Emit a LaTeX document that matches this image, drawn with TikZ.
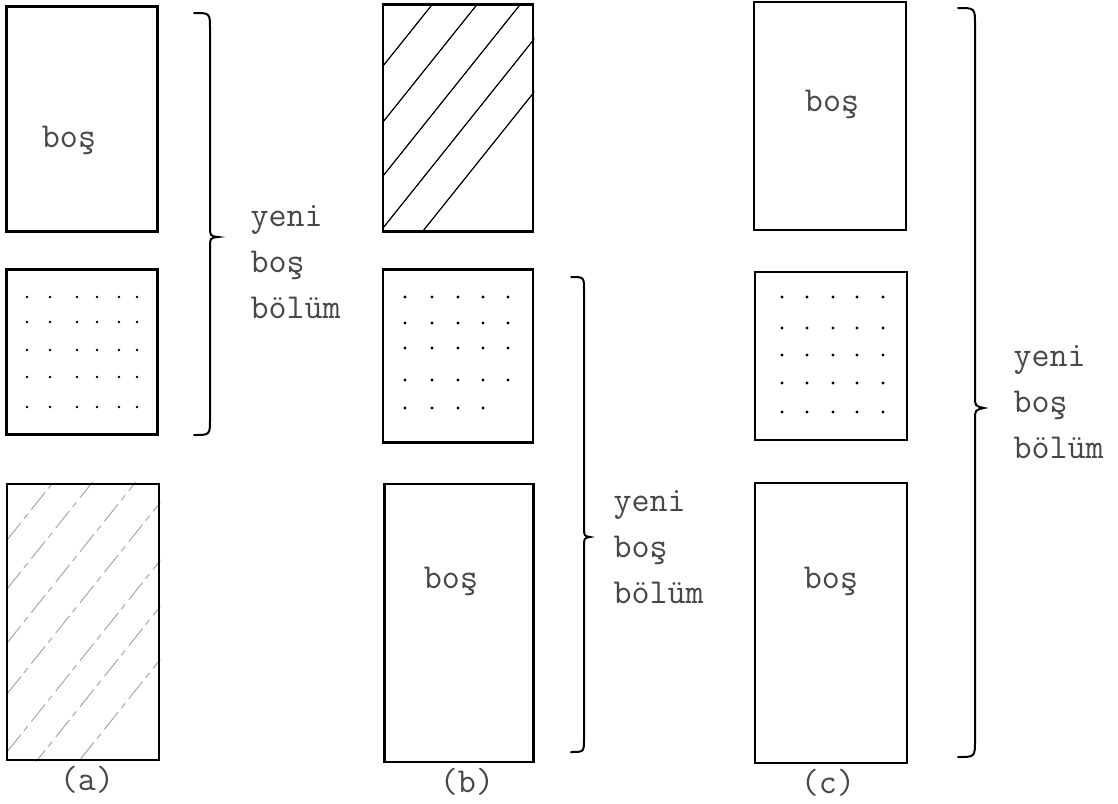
\documentclass[tikz,border=0pt]{standalone}
\usepackage{fontspec}
\usetikzlibrary{positioning,backgrounds}

\begin{document}
\begin{tikzpicture}[x=1pt,y=-1pt,
every node/.style={font=\fontsize{35}{46}\ttfamily,text=black!72},
blok/.style={draw,line width=2.6pt,inner sep=0pt},
etiket/.style={inner sep=2pt},
kume/.style={line width=2pt,line cap=round},
tarama/.style={line width=1.2pt},
soluk/.style={line width=1pt,gray!70,dash pattern=on 22pt off 5pt on 6pt off 6pt}]
\useasboundingbox (0,0) rectangle (1118,803);

% (a)
\node[blok,minimum width=151,minimum height=225] (a1) at (82,119) {};
\node[blok,minimum width=151,minimum height=165] (a2) at (82,352) {};
\node[blok,minimum width=152,minimum height=276] (a3) at (83,622) {};
\node (a1t) at (69,140) {boş};
\node[etiket,below=3pt of a3,xshift=4pt] (la) {(a)};

% (b)
\node[blok,minimum width=150,minimum height=227] (b1) at (458,118) {};
\node[blok,minimum width=150,minimum height=173] (b2) at (458,356) {};
\node[blok,minimum width=149,minimum height=278] (b3) at (459,623) {};
\node (b3t) at (451,581) {boş};
\node[etiket,below=3pt of b3,xshift=8pt] (lb) {(b)};

% (c)
\node[blok,minimum width=152,minimum height=228] (c1) at (830,116) {};
\node[blok,minimum width=152,minimum height=168] (c2) at (831,356) {};
\node[blok,minimum width=152,minimum height=280] (c3) at (831,623) {};
\node (c1t) at (832,104) {boş};
\node (c3t) at (831,581) {boş};
\node[etiket,below=3pt of c3,xshift=-3pt] (lc) {(c)};

% taralı bölümler
\begin{scope}[on background layer]
  \begin{scope}
    \clip (a3.south west) rectangle (a3.north east);
    \foreach \y in {540,589,643,694,752,798,851}
      \draw[soluk] (7,\y) -- ++(300,-375);
  \end{scope}
  \begin{scope}
    \clip (b1.south west) rectangle (b1.north east);
    \foreach \y in {66,122,176,228,281}
      \draw[tarama] (383,\y) -- ++(300,-375);
  \end{scope}
\end{scope}

% noktalı bölümler
\foreach \x in {27,50,77,97,119,137}
  \foreach \y in {297,322,350,377,407}
    \fill (\x,\y) circle (1.4pt);
\foreach \x in {405,432,458,483,508}
  \foreach \y in {297,323,348,380}
    \fill (\x,\y) circle (1.6pt);
\foreach \x in {405,432,458,483}
  \fill (\x,408) circle (1.6pt);
\foreach \x in {782,807,833,857,883}
  \foreach \y in {297,328,355,383,412}
    \fill (\x,\y) circle (1.7pt);

% parantezler
\draw[kume] (194,13) .. controls (210,13) .. (210,29) -- (210,226)
  .. controls (210,236) .. (218,237) .. controls (210,238) .. (210,248)
  -- (210,419) .. controls (210,435) .. (194,435);
\draw[kume] (571,277) .. controls (584,277) .. (584,290) -- (584,526)
  .. controls (584,536) .. (590,537) .. controls (584,538) .. (584,548)
  -- (584,739) .. controls (584,752) .. (571,752);
\draw[kume] (958,8) .. controls (975,8) .. (975,25) -- (975,396)
  .. controls (975,406) .. (984,408) .. controls (975,410) .. (975,420)
  -- (975,740) .. controls (975,757) .. (958,757);

\node[anchor=west,align=left] (ta) at (247,262) {yeni\\boş\\bölüm};
\node[anchor=west,align=left] (tb) at (610,547) {yeni\\boş\\bölüm};
\node[anchor=west,align=left] (tc) at (1010,402) {yeni\\boş\\bölüm};
\end{tikzpicture}
\end{document}
